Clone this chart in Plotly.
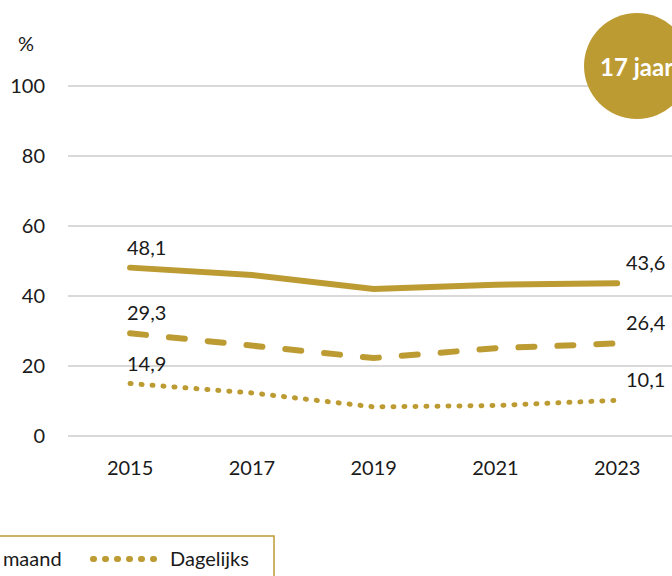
import plotly.graph_objects as go

GOLD = "#BD9B33"
TEXT = "#1a1a1a"
FONT = "Lato, 'Open Sans', sans-serif"

years = [2015, 2017, 2019, 2021, 2023]
series_names = ["Ooit", "Afgelopen maand", "Dagelijks"]
ooit = [48.1, 46.0, 42.0, 43.2, 43.6]
maand = [29.3, 25.7, 22.2, 25.0, 26.4]
dagelijks = [14.9, 12.2, 8.2, 8.6, 10.1]
y_ticks = [0, 20, 40, 60, 80, 100]
age_label = "17 jaar"

W, H = 672, 576
L, R, T, B = 68, 0, 76, 130
PW, PH = W - L - R, H - T - B


def px(x):
    return (x - L) / PW


def py(y):
    return (H - B - y) / PH


def fmt(v):
    return f"{v:.1f}".replace(".", ",")


styles = [
    dict(width=6, dash="solid"),
    dict(width=6, dash="16px,23px"),
    dict(width=5, dash="1px,10px"),
]

fig = go.Figure()
for name, vals, st in zip(series_names, [ooit, maand, dagelijks], styles):
    fig.add_trace(go.Scatter(
        x=years, y=vals, name=name,
        mode="lines",
        line=dict(color=GOLD, width=st["width"], dash=st["dash"]),
        showlegend=False,
        hovertemplate="%{x}: %{y:.1f}%<extra>" + name + "</extra>",
    ))
    # labels only on first and last year
    for i, shift in [(0, -5), (-1, 7)]:
        fig.add_annotation(x=years[i], y=vals[i], text=fmt(vals[i]),
                           showarrow=False, xanchor="left", yanchor="middle",
                           xshift=shift, yshift=21,
                           font=dict(size=20, color=TEXT, family=FONT))

# hand-drawn legend box (cropped on the left like the original)
fig.add_shape(type="rect", xref="paper", yref="paper",
              x0=px(-420), x1=px(274), y0=py(600), y1=py(536),
              line=dict(color=GOLD, width=1.5), fillcolor="rgba(0,0,0,0)")
leg_x = [-336, -169, 93]
leg_dash = ["solid", "15px,12px", "1px,11px"]
for name, x0, dash in zip(series_names, leg_x, leg_dash):
    fig.add_shape(type="line", xref="paper", yref="paper",
                  x0=px(x0), x1=px(x0 + 66), y0=py(559), y1=py(559),
                  line=dict(color=GOLD, width=6, dash=dash))
    fig.add_annotation(x=px(x0 + 75), y=py(558), xref="paper", yref="paper",
                       text=name, showarrow=False,
                       xanchor="left", yanchor="middle",
                       font=dict(size=20, color=TEXT, family=FONT))

# age badge
fig.add_shape(type="circle", xref="paper", yref="paper",
              x0=px(584), x1=px(690), y0=py(119), y1=py(13),
              fillcolor=GOLD, line=dict(width=0), layer="above")
fig.add_annotation(x=px(636), y=py(66), xref="paper", yref="paper",
                   text=f"<b>{age_label}</b>", showarrow=False,
                   xanchor="center", yanchor="middle",
                   font=dict(size=24, color="white", family=FONT))
fig.add_annotation(x=px(26), y=py(43), xref="paper", yref="paper",
                   text="%", showarrow=False,
                   xanchor="center", yanchor="middle",
                   font=dict(size=20, color=TEXT, family=FONT))

fig.update_layout(
    width=W, height=H,
    margin=dict(l=L, r=R, t=T, b=B, autoexpand=False),
    paper_bgcolor="white", plot_bgcolor="white",
    font=dict(family=FONT, size=20, color=TEXT),
    showlegend=False,
    xaxis=dict(
        range=[2013.98, 2023.90],
        tickvals=years, ticktext=[str(y) for y in years],
        showgrid=False, zeroline=False, showline=False,
        ticks="", ticklabelstandoff=8,
    ),
    yaxis=dict(
        range=[-3, 103],
        tickvals=y_ticks,
        showgrid=True, gridcolor="#D9D9D9", gridwidth=2,
        zeroline=False, showline=False, ticks="",
        ticklabelstandoff=22,
    ),
)

# no page margin, round line caps like the original
post = """
document.body.style.margin = '0';
document.querySelectorAll('.scatterlayer .js-line, .shapelayer path').forEach(function (p) {
  p.style.strokeLinecap = 'round';
});
"""
fig.write_html("out.html", post_script=post, config={"displayModeBar": False})
